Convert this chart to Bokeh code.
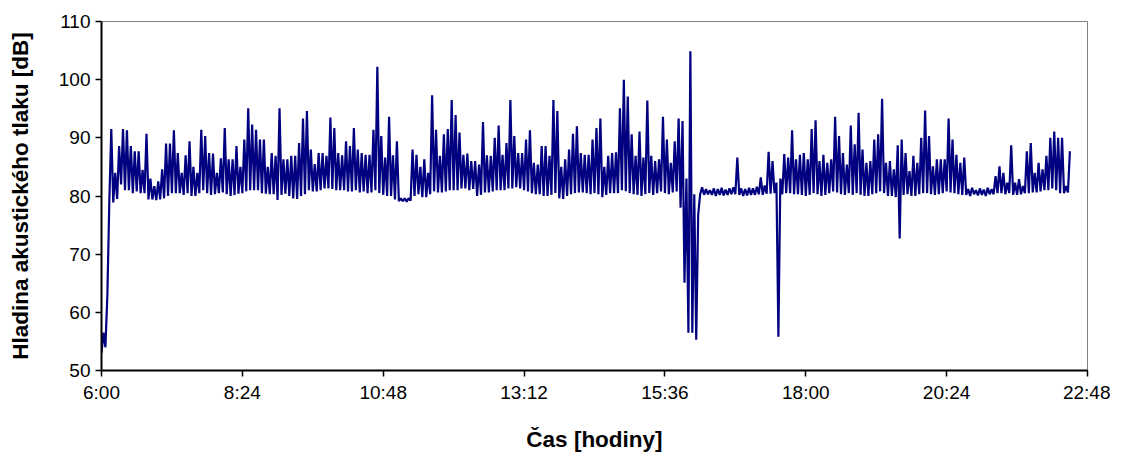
from bokeh.plotting import figure
from bokeh.models import Range1d, FixedTicker
from bokeh.embed import file_html
from bokeh.resources import INLINE

# Envelope (low / high level) of the sound pressure level in 4-minute bins from 6:00
BIN_MINUTES = 4

hi_morning = [
    56.5, 63, 91.5, 84, 88.6, 91.5, 91.3, 88.6, 87.7, 87.7,
    84.5, 90.7, 83, 81.7, 82.5, 84.6, 89, 89, 91.3, 87.4,
    84, 87, 89.4, 85, 84, 91.4, 90.3, 87.4, 87.3, 84,
    86.5, 91.7, 86.3, 86.3, 88.6, 85, 89.7, 95.1, 92.3, 91.4,
    89.7, 89.7, 85, 87.4, 86.9, 95.1, 86.3, 86.3, 86.9, 86.9,
    89.1, 93.3, 94.6, 88, 85.5, 87.4, 87.4, 86.9, 93.5, 91.7,
    87.4, 87, 89.4, 88.6, 91.7, 88, 87.4, 87.1, 87.1, 91.4,
    102.2, 90.3, 86.6, 93.6, 87, 89.4, 79.6, 79.6, 79.6, 88,
]
lo_morning = [
    53, 54, 79, 78.9, 79.5, 82, 81, 81, 80.5, 80.8,
    80.5, 80.5, 79.4, 79.4, 79.3, 79.4, 79.6, 80, 80.5, 80.5,
    80.5, 80.2, 80.5, 80, 80, 80.5, 81, 80.5, 80.2, 80.3,
    80.5, 80.6, 80.3, 80, 80.2, 80.4, 80.5, 80.8, 81, 81,
    81, 80.5, 80.4, 80.3, 80.3, 79.3, 80.2, 80.4, 80, 79.6,
    79.5, 80, 80.3, 81, 80.8, 80.8, 81, 81.3, 81.3, 81.2,
    81, 81, 81, 80.8, 80.8, 81, 80.6, 80.8, 80.5, 80.6,
    81, 80.5, 80.2, 80, 80, 79.4, 79.1, 79.1, 79, 79.2,
]
hi_midday = [
    87.1, 85, 86.3, 84, 97.3, 91.4, 86.9, 90.6, 91.5, 96.5,
    93.9, 90.9, 87.1, 87.3, 86, 86, 85.4, 92.7, 87, 86.9,
    90, 92.1, 87.1, 89.1, 96.5, 90.3, 87.4, 87.4, 89.7, 91.3,
    85.7, 85.4, 88.6, 88.6, 86.9, 96.5, 94.6, 85, 86.3, 88,
    90.7, 92, 87.4, 87.1, 87.1, 89.7, 91.7, 93.3, 85, 86.9,
    87.4, 87.5, 95.1, 100, 97.1, 90.6, 86.9, 91.1, 86.6, 96.4,
    86.9, 86, 86.3, 93.6, 89.7, 85.7, 89.4, 93.3, 92.9, 83,
    104.9, 80.3, 76.8, 81.5, 81.2, 81.0, 81.3, 81.2, 81.4, 81.1,
]
lo_midday = [
    80, 80.3, 79.8, 79.8, 80.3, 80.8, 80.6, 80.6, 80.8, 81,
    81, 81, 81.3, 81.3, 81, 81.2, 80, 80.2, 80.6, 80.6,
    80.8, 81, 81, 81, 81.3, 81.3, 81.5, 81.3, 81, 80.8,
    80.5, 80.3, 80.3, 80, 80, 80.2, 80.5, 79.6, 79.5, 80,
    80.3, 80.5, 80.6, 80.6, 80.5, 80.3, 80.5, 80.3, 79.8, 80.2,
    80.5, 80.5, 80.5, 81, 80.8, 80.5, 80.3, 80.2, 80, 80.3,
    80.5, 80.2, 80.5, 80.8, 80.5, 80.3, 80.6, 80.8, 78, 65.1,
    56.5, 56.5, 55.3, 80.3, 80.2, 80.3, 80.2, 80.0, 80.2, 80.1,
]
hi_evening = [
    81.3, 81.5, 86.6, 81.3, 81.2, 81.4, 81.3, 81.6, 83.2, 81.8,
    87.6, 86, 82.3, 83, 87.2, 86.6, 91.3, 86.3, 87.1, 87.4,
    86.3, 91.5, 93, 86, 87.1, 85.7, 86.3, 93.6, 90.3, 87.4,
    85.4, 92.1, 88.9, 94.3, 88, 85.7, 86, 89.7, 90.6, 96.7,
    85.7, 86, 84.6, 88.7, 89.7, 87.4, 84.3, 86.9, 85.7, 90,
    94.7, 90.3, 85.1, 86.3, 86.3, 86.3, 93.3, 89.7, 87.1, 85.7,
    86.6, 81.2, 81.4, 81.0, 81.3, 81.1, 81.4, 81.2, 83.4, 85.1,
    84, 82.3, 88.7, 82.3, 82.9, 81.7, 87.7, 89.1, 84, 85.7,
    84.6, 86.9, 90, 91.1, 90, 90, 81.7, 87.7,
]
lo_evening = [
    80.2, 80.3, 80.3, 80.2, 80.0, 80.1, 80.2, 80.2, 80.3, 80.2,
    80.4, 80.4, 80.5, 55.8, 80.3, 80.5, 80.5, 80.3, 80.3, 80.2,
    80, 80.2, 80.5, 80.3, 80, 80.2, 80.5, 80.8, 80.6, 80.3,
    80.2, 80.5, 80.2, 80.5, 80.2, 80, 80, 80.3, 80.5, 80.8,
    80.5, 80, 80, 79.8, 72.7, 80.2, 80.3, 80, 80, 80.3,
    80.5, 80.5, 80.3, 80.2, 80.3, 80.5, 80.8, 80.6, 80.5, 80.3,
    80.2, 80.2, 80.0, 80.3, 80.1, 80.2, 80.0, 80.3, 80.3, 80.5,
    80.5, 80.3, 80.5, 80.2, 80.2, 80.3, 80.5, 80.5, 80.6, 80.6,
    80.8, 81, 81, 81.3, 81, 80.5, 80.5, 80.6,
]

tick_minutes = [0, 144, 288, 432, 576, 720, 864, 1008]
tick_labels = ["6:00", "8:24", "10:48", "13:12", "15:36", "18:00", "20:24", "22:48"]
y_ticks = [50, 60, 70, 80, 90, 100, 110]

lo_all = lo_morning + lo_midday + lo_evening
hi_all = hi_morning + hi_midday + hi_evening

xs, ys = [], []
for k, (lo, hi) in enumerate(zip(lo_all, hi_all)):
    xs.append(k * BIN_MINUTES)
    ys.append(lo)
    xs.append(k * BIN_MINUTES + BIN_MINUTES / 2)
    ys.append(hi)

FONT = "Liberation Sans"

p = figure(width=1110, height=457, output_backend="svg", toolbar_location=None,
           x_range=Range1d(0, 1008), y_range=Range1d(50, 110),
           min_border_left=101, min_border_right=23, min_border_top=21, min_border_bottom=87)
p.background_fill_color = "white"
p.border_fill_color = "white"
p.grid.visible = False
p.outline_line_color = "#808080"
p.outline_line_width = 1

p.line(xs, ys, line_color="#000080", line_width=2.2)

p.xaxis.ticker = FixedTicker(ticks=tick_minutes)
p.xaxis.major_label_overrides = {t: l for t, l in zip(tick_minutes, tick_labels)}
p.yaxis.ticker = FixedTicker(ticks=y_ticks)

for ax in (p.xaxis[0], p.yaxis[0]):
    ax.axis_line_color = "black"
    ax.axis_line_width = 2
    ax.major_tick_line_color = "black"
    ax.major_tick_line_width = 1.5
    ax.major_tick_in = 0
    ax.major_tick_out = 6
    ax.minor_tick_line_color = None
    ax.major_label_text_font = FONT
    ax.major_label_text_font_size = "19px"
    ax.major_label_text_color = "black"
    ax.major_label_standoff = 5
    ax.axis_label_text_font = FONT
    ax.axis_label_text_font_size = "22.5px"
    ax.axis_label_text_font_style = "bold"
    ax.axis_label_text_color = "black"

p.xaxis.axis_label = "Čas [hodiny]"
p.yaxis.axis_label = "Hladina akustického tlaku [dB]"
p.xaxis.axis_label_standoff = 21
p.yaxis.axis_label_standoff = 23

open("out.html", "w").write(file_html(p, INLINE))
